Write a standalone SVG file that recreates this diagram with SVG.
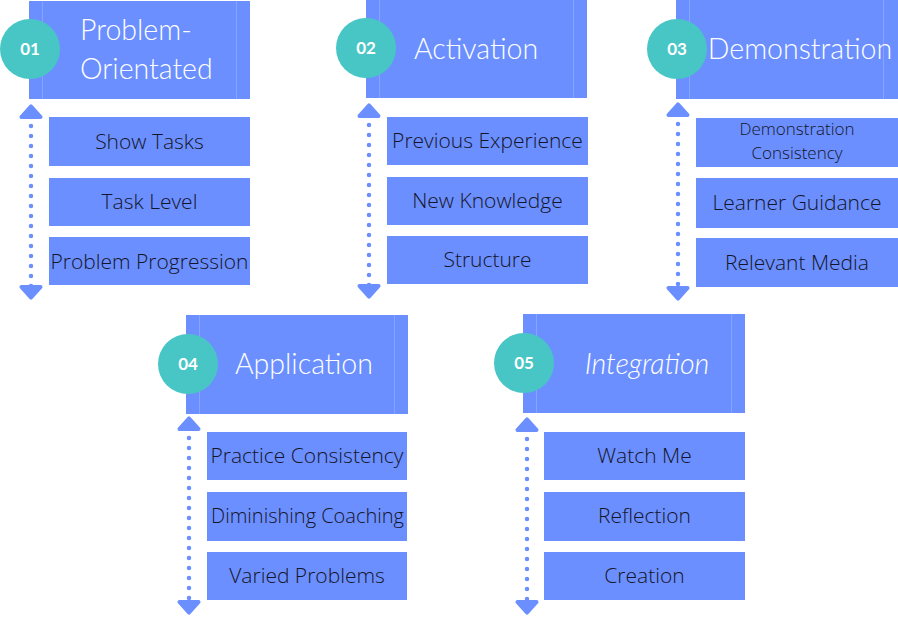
<svg xmlns="http://www.w3.org/2000/svg" width="898" height="619" viewBox="0 0 898 619">
<style>
.hdr{fill:#6b8ffe}
.inner{stroke:#86a3ff;stroke-width:1}
.sub{fill:#6b8ffe}
.circ{fill:#48c6c5}
.num{font-family:"Lato","Open Sans",sans-serif;font-weight:700;font-size:17px;fill:#ffffff;text-anchor:middle}
.title{font-family:"Lato","Open Sans",sans-serif;font-weight:300;font-size:28.5px;fill:#ffffff;text-anchor:middle}
.label{font-family:"Open Sans","Liberation Sans",sans-serif;font-weight:300;font-size:21px;fill:#15152a;text-anchor:middle}
.small{font-family:"Open Sans","Liberation Sans",sans-serif;font-weight:300;font-size:17px;fill:#15152a;text-anchor:middle}
.dots{stroke:#6b8ffe;stroke-width:4.5;stroke-linecap:round;stroke-dasharray:0 10;fill:none}
</style>
<defs>
<marker id="ah" markerUnits="userSpaceOnUse" markerWidth="30" markerHeight="30" refX="1" refY="0" viewBox="-4 -14 20 28" orient="auto-start-reverse" overflow="visible">
<path d="M0,-9 L10,0 L0,9 Z" fill="#6b8ffe" stroke="#6b8ffe" stroke-width="3.5" stroke-linejoin="round"/>
</marker>
</defs>

<g id="connectors">
<line class="dots" x1="31" y1="116" x2="31" y2="288" marker-start="url(#ah)" marker-end="url(#ah)"/>
<line class="dots" x1="369" y1="115" x2="369" y2="287" marker-start="url(#ah)" marker-end="url(#ah)"/>
<line class="dots" x1="678" y1="114" x2="678" y2="289" marker-start="url(#ah)" marker-end="url(#ah)"/>
<line class="dots" x1="189" y1="428" x2="189" y2="603" marker-start="url(#ah)" marker-end="url(#ah)"/>
<line class="dots" x1="527" y1="429" x2="527" y2="603" marker-start="url(#ah)" marker-end="url(#ah)"/>
</g>

<g id="node-01">
<rect class="hdr" x="29" y="1" width="221" height="98"/>
<line class="inner" x1="42.5" y1="1" x2="42.5" y2="99"/>
<line class="inner" x1="236.5" y1="1" x2="236.5" y2="99"/>
<circle class="circ" cx="30" cy="49" r="30"/>
<text class="num" x="30" y="55">01</text>
<text class="title" x="80" y="40" style="text-anchor:start">Problem-</text>
<text class="title" x="80" y="79" style="text-anchor:start">Orientated</text>
</g>
<g id="node-01-a"><rect class="sub" x="49" y="117" width="201" height="49"/><text class="label" x="149.5" y="149">Show Tasks</text></g>
<g id="node-01-b"><rect class="sub" x="49" y="178" width="201" height="48"/><text class="label" x="149.5" y="209">Task Level</text></g>
<g id="node-01-c"><rect class="sub" x="49" y="237" width="201" height="48"/><text class="label" x="149.5" y="269">Problem Progression</text></g>

<g id="node-02">
<rect class="hdr" x="366" y="0" width="221" height="98"/>
<line class="inner" x1="379.5" y1="0" x2="379.5" y2="98"/>
<line class="inner" x1="573.5" y1="0" x2="573.5" y2="98"/>
<circle class="circ" cx="366" cy="48" r="30"/>
<text class="num" x="366" y="54">02</text>
<text class="title" x="476" y="59">Activation</text>
</g>
<g id="node-02-a"><rect class="sub" x="387" y="117" width="201" height="48"/><text class="label" x="487.5" y="148">Previous Experience</text></g>
<g id="node-02-b"><rect class="sub" x="387" y="177" width="201" height="48"/><text class="label" x="487.5" y="208">New Knowledge</text></g>
<g id="node-02-c"><rect class="sub" x="387" y="236" width="201" height="48"/><text class="label" x="487.5" y="267">Structure</text></g>

<g id="node-03">
<rect class="hdr" x="676" y="0" width="222" height="99"/>
<line class="inner" x1="689.5" y1="0" x2="689.5" y2="99"/>
<line class="inner" x1="883.5" y1="0" x2="883.5" y2="99"/>
<circle class="circ" cx="677" cy="49" r="30"/>
<text class="num" x="677" y="55">03</text>
<text class="title" x="800" y="59">Demonstration</text>
</g>
<g id="node-03-a"><rect class="sub" x="696" y="118" width="202" height="49"/><text class="small" x="797" y="135">Demonstration</text><text class="small" x="797" y="159">Consistency</text></g>
<g id="node-03-b"><rect class="sub" x="696" y="178" width="202" height="50"/><text class="label" x="797" y="210">Learner Guidance</text></g>
<g id="node-03-c"><rect class="sub" x="696" y="238" width="202" height="49"/><text class="label" x="797" y="270">Relevant Media</text></g>

<g id="node-04">
<rect class="hdr" x="186" y="315" width="222" height="99"/>
<line class="inner" x1="199.5" y1="315" x2="199.5" y2="414"/>
<line class="inner" x1="394.5" y1="315" x2="394.5" y2="414"/>
<circle class="circ" cx="188" cy="364" r="30"/>
<text class="num" x="188" y="370">04</text>
<text class="title" x="304" y="374">Application</text>
</g>
<g id="node-04-a"><rect class="sub" x="207" y="432" width="200" height="48"/><text class="label" x="307" y="463">Practice Consistency</text></g>
<g id="node-04-b"><rect class="sub" x="207" y="492" width="200" height="49"/><text class="label" x="307.5" y="523" style="font-size:20px">Diminishing Coaching</text></g>
<g id="node-04-c"><rect class="sub" x="207" y="552" width="200" height="48"/><text class="label" x="307" y="583">Varied Problems</text></g>

<g id="node-05">
<rect class="hdr" x="523" y="314" width="222" height="99"/>
<line class="inner" x1="536.5" y1="314" x2="536.5" y2="413"/>
<line class="inner" x1="731.5" y1="314" x2="731.5" y2="413"/>
<circle class="circ" cx="524" cy="363" r="30"/>
<text class="num" x="524" y="369">05</text>
<text class="title" x="647" y="374" font-style="italic">Integration</text>
</g>
<g id="node-05-a"><rect class="sub" x="544" y="432" width="201" height="48"/><text class="label" x="644.5" y="463">Watch Me</text></g>
<g id="node-05-b"><rect class="sub" x="544" y="492" width="201" height="49"/><text class="label" x="644.5" y="523">Reflection</text></g>
<g id="node-05-c"><rect class="sub" x="544" y="552" width="201" height="48"/><text class="label" x="644.5" y="583">Creation</text></g>
</svg>
